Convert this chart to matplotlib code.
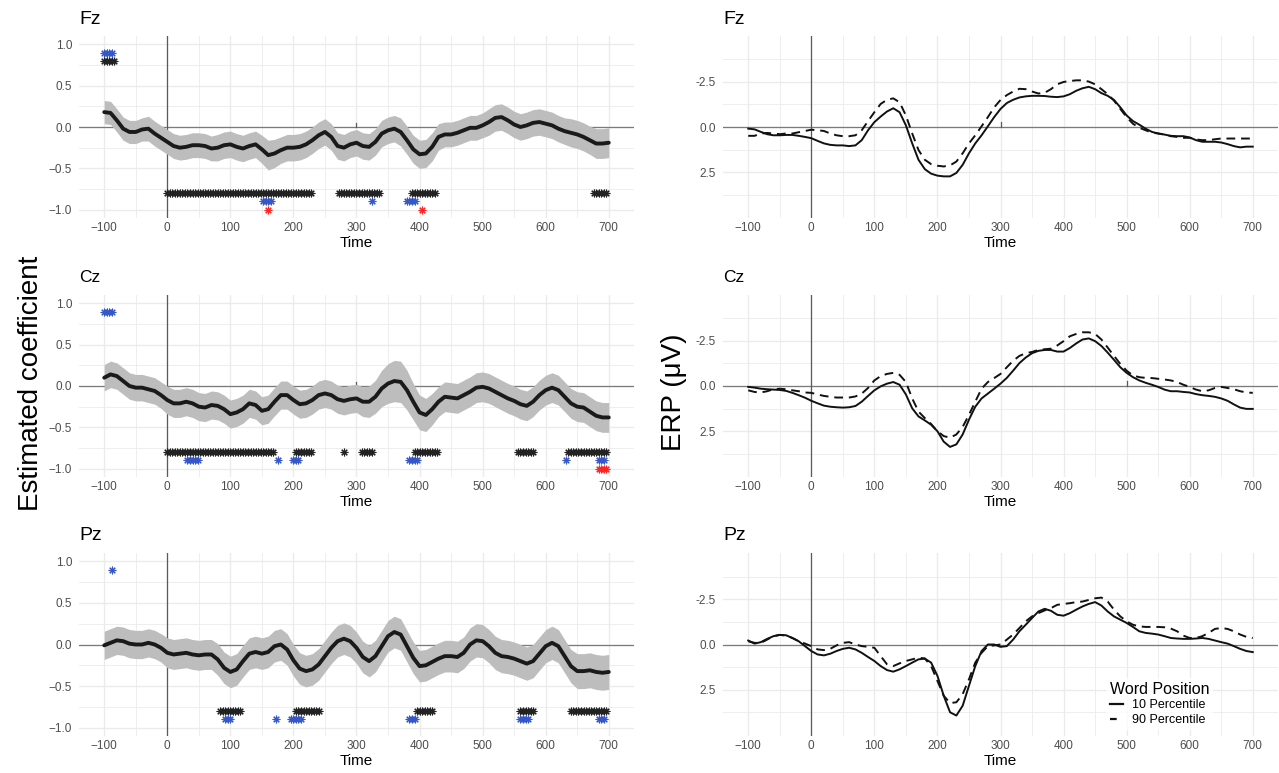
import matplotlib
matplotlib.use("Agg")
import matplotlib.pyplot as plt
import numpy as np
from matplotlib.lines import Line2D

plt.rcParams["font.family"] = ["Liberation Sans", "DejaVu Sans"]

# time axis (ms), one sample per 10 ms
TIME = np.arange(-100, 701, 10)
CHANNELS = ["Fz", "Cz", "Pz"]

# ---- left column: estimated coefficient (smooth) + CI half-width ----
coef_fz = [0.18, 0.17, 0.08, -0.02, -0.06, -0.06, -0.03, -0.02, -0.08, -0.13,
           -0.18, -0.23, -0.25, -0.24, -0.22, -0.22, -0.23, -0.26, -0.25, -0.22,
           -0.21, -0.24, -0.26, -0.23, -0.21, -0.27, -0.34, -0.32, -0.28, -0.25,
           -0.25, -0.24, -0.21, -0.16, -0.10, -0.06, -0.12, -0.23, -0.25, -0.21,
           -0.19, -0.23, -0.24, -0.18, -0.08, -0.04, -0.02, -0.06, -0.16, -0.27,
           -0.33, -0.32, -0.24, -0.12, -0.09, -0.09, -0.07, -0.04, -0.01, -0.01,
           0.02, 0.06, 0.11, 0.12, 0.08, 0.03, 0.00, 0.02, 0.05, 0.06,
           0.04, 0.02, -0.02, -0.05, -0.07, -0.09, -0.12, -0.16, -0.20, -0.20,
           -0.19]
ci_fz = [0.14, 0.14, 0.14, 0.14, 0.14, 0.14, 0.14, 0.15, 0.15, 0.15,
         0.15, 0.15, 0.15, 0.15, 0.15, 0.15, 0.15, 0.15, 0.16, 0.16,
         0.16, 0.16, 0.16, 0.16, 0.16, 0.17, 0.18, 0.17, 0.16, 0.16,
         0.16, 0.16, 0.16, 0.16, 0.16, 0.16, 0.16, 0.16, 0.16, 0.16,
         0.16, 0.16, 0.16, 0.16, 0.16, 0.16, 0.16, 0.17, 0.17, 0.17,
         0.17, 0.17, 0.17, 0.16, 0.15, 0.15, 0.15, 0.15, 0.15, 0.15,
         0.15, 0.16, 0.16, 0.16, 0.16, 0.16, 0.16, 0.16, 0.16, 0.16,
         0.16, 0.16, 0.16, 0.16, 0.17, 0.17, 0.17, 0.17, 0.18, 0.18,
         0.18]
coef_cz = [0.10, 0.14, 0.12, 0.06, 0.00, -0.02, -0.02, -0.04, -0.06, -0.11,
           -0.17, -0.21, -0.21, -0.19, -0.21, -0.25, -0.26, -0.23, -0.24, -0.28,
           -0.34, -0.32, -0.28, -0.21, -0.23, -0.30, -0.28, -0.19, -0.11, -0.11,
           -0.17, -0.22, -0.21, -0.17, -0.11, -0.09, -0.11, -0.16, -0.18, -0.16,
           -0.15, -0.19, -0.19, -0.13, -0.03, 0.03, 0.06, 0.05, -0.05, -0.19,
           -0.32, -0.35, -0.28, -0.19, -0.13, -0.14, -0.15, -0.11, -0.07, -0.02,
           -0.01, -0.03, -0.07, -0.11, -0.15, -0.18, -0.22, -0.24, -0.19, -0.11,
           -0.05, -0.02, -0.05, -0.13, -0.21, -0.25, -0.26, -0.31, -0.36, -0.38,
           -0.38]
ci_cz = [0.16, 0.16, 0.16, 0.16, 0.16, 0.16, 0.16, 0.16, 0.16, 0.16,
         0.17, 0.17, 0.17, 0.17, 0.17, 0.17, 0.17, 0.17, 0.17, 0.17,
         0.17, 0.17, 0.17, 0.17, 0.17, 0.17, 0.17, 0.17, 0.17, 0.17,
         0.17, 0.17, 0.17, 0.17, 0.17, 0.17, 0.17, 0.17, 0.17, 0.17,
         0.17, 0.18, 0.19, 0.20, 0.22, 0.24, 0.25, 0.25, 0.24, 0.22,
         0.21, 0.20, 0.19, 0.18, 0.18, 0.18, 0.18, 0.18, 0.18, 0.18,
         0.18, 0.18, 0.18, 0.18, 0.18, 0.18, 0.18, 0.18, 0.18, 0.18,
         0.18, 0.18, 0.18, 0.18, 0.18, 0.18, 0.18, 0.18, 0.18, 0.18,
         0.18]
coef_pz = [-0.01, 0.02, 0.05, 0.04, 0.01, 0.00, 0.00, 0.02, 0.00, -0.04,
           -0.10, -0.12, -0.11, -0.10, -0.12, -0.13, -0.12, -0.12, -0.18, -0.28,
           -0.33, -0.30, -0.20, -0.11, -0.09, -0.11, -0.09, -0.02, 0.00, -0.06,
           -0.19, -0.29, -0.32, -0.30, -0.24, -0.14, -0.04, 0.04, 0.07, 0.04,
           -0.04, -0.15, -0.20, -0.14, -0.02, 0.10, 0.15, 0.12, -0.02, -0.16,
           -0.26, -0.25, -0.21, -0.17, -0.14, -0.14, -0.15, -0.10, 0.00, 0.05,
           0.04, -0.02, -0.10, -0.14, -0.15, -0.17, -0.20, -0.23, -0.20, -0.11,
           -0.02, 0.02, -0.02, -0.14, -0.26, -0.32, -0.32, -0.31, -0.33, -0.34,
           -0.33]
ci_pz = [0.17, 0.17, 0.17, 0.17, 0.17, 0.17, 0.17, 0.17, 0.17, 0.17,
         0.18, 0.18, 0.18, 0.18, 0.18, 0.18, 0.18, 0.18, 0.19, 0.19,
         0.19, 0.19, 0.19, 0.19, 0.19, 0.19, 0.19, 0.19, 0.19, 0.19,
         0.19, 0.19, 0.19, 0.19, 0.19, 0.19, 0.19, 0.19, 0.19, 0.19,
         0.19, 0.19, 0.19, 0.19, 0.19, 0.19, 0.19, 0.19, 0.19, 0.19,
         0.19, 0.19, 0.19, 0.19, 0.19, 0.19, 0.19, 0.19, 0.20, 0.20,
         0.20, 0.20, 0.20, 0.20, 0.20, 0.20, 0.20, 0.20, 0.20, 0.20,
         0.20, 0.20, 0.20, 0.20, 0.20, 0.21, 0.21, 0.21, 0.21, 0.21,
         0.21]

# significance windows (ms) per row of asterisks: level -> list of (start, end)
STAR_STEP = 4
stars_fz = {
    0.9: [(-100, -88)],
    0.8: [(-100, -84)],
    -0.8: [(0, 228), (272, 336), (388, 424), (676, 696)],
    -0.9: [(152, 164), (324, 324), (380, 392)],
    -1.0: [(160, 160), (404, 404)],
}
stars_cz = {
    0.9: [(-100, -88)],
    -0.8: [(0, 170), (204, 228), (280, 280), (308, 324), (392, 428),
           (556, 580), (636, 696)],
    -0.9: [(32, 48), (176, 176), (200, 208), (384, 396), (632, 632), (684, 692)],
    -1.0: [(684, 696)],
}
stars_pz = {
    0.9: [(-88, -88)],
    -0.8: [(84, 116), (204, 240), (396, 420), (560, 580), (640, 696)],
    -0.9: [(92, 100), (172, 172), (196, 212), (384, 392), (560, 572), (684, 692)],
}
STAR_COLORS = {0.9: "#3557c8", 0.8: "#222222", -0.8: "#222222",
               -0.9: "#3557c8", -1.0: "#ff2424"}

# ---- right column: ERP (µV) for 10th / 90th word-position percentile ----
erp10_fz = [0.09, 0.13, 0.27, 0.40, 0.46, 0.46, 0.44, 0.44, 0.49, 0.55,
            0.62, 0.77, 0.91, 0.99, 1.02, 1.02, 1.06, 1.02, 0.73, 0.18,
            -0.27, -0.58, -0.86, -1.04, -0.82, -0.09, 0.91, 1.82, 2.34, 2.59,
            2.70, 2.74, 2.74, 2.55, 2.10, 1.46, 0.91, 0.46, -0.04, -0.55,
            -1.00, -1.33, -1.51, -1.64, -1.70, -1.73, -1.73, -1.72, -1.68, -1.66,
            -1.70, -1.82, -2.01, -2.15, -2.23, -2.10, -1.88, -1.73, -1.50, -1.09,
            -0.64, -0.33, -0.13, 0.09, 0.27, 0.36, 0.42, 0.49, 0.51, 0.51,
            0.58, 0.73, 0.82, 0.82, 0.82, 0.86, 0.95, 1.06, 1.13, 1.09,
            1.09]
erp90_fz = [0.49, 0.49, 0.36, 0.33, 0.36, 0.40, 0.36, 0.36, 0.29, 0.22,
            0.15, 0.18, 0.22, 0.36, 0.46, 0.51, 0.51, 0.46, 0.18, -0.33,
            -0.82, -1.28, -1.51, -1.59, -1.37, -0.64, 0.36, 1.28, 1.82, 2.06,
            2.15, 2.19, 2.13, 1.92, 1.46, 0.91, 0.46, -0.04, -0.55, -1.09,
            -1.50, -1.77, -1.97, -2.12, -2.10, -1.97, -1.86, -1.90, -2.10, -2.37,
            -2.50, -2.55, -2.59, -2.59, -2.52, -2.37, -2.10, -1.82, -1.46, -1.00,
            -0.55, -0.18, 0.04, 0.18, 0.31, 0.36, 0.42, 0.51, 0.55, 0.60,
            0.60, 0.69, 0.73, 0.73, 0.68, 0.64, 0.64, 0.64, 0.64, 0.64,
            0.64]
erp10_cz = [0.05, 0.09, 0.15, 0.18, 0.20, 0.22, 0.27, 0.38, 0.51, 0.65,
            0.82, 0.96, 1.09, 1.15, 1.18, 1.20, 1.18, 1.11, 0.87, 0.55,
            0.24, 0.02, -0.13, -0.22, -0.07, 0.47, 1.24, 1.69, 1.91, 2.15,
            2.51, 3.09, 3.38, 3.24, 2.69, 1.87, 1.15, 0.69, 0.42, 0.15,
            -0.13, -0.45, -0.85, -1.27, -1.58, -1.82, -1.95, -2.00, -2.00, -1.91,
            -1.91, -2.11, -2.36, -2.58, -2.64, -2.49, -2.22, -1.85, -1.45, -1.04,
            -0.73, -0.49, -0.31, -0.18, -0.07, 0.05, 0.20, 0.29, 0.29, 0.33,
            0.36, 0.45, 0.51, 0.55, 0.60, 0.69, 0.82, 1.02, 1.20, 1.27,
            1.27]
erp90_cz = [0.24, 0.33, 0.36, 0.29, 0.18, 0.15, 0.18, 0.24, 0.29, 0.36,
            0.38, 0.47, 0.55, 0.60, 0.64, 0.64, 0.64, 0.58, 0.42, 0.11,
            -0.31, -0.55, -0.67, -0.73, -0.62, -0.22, 0.69, 1.42, 1.78, 2.11,
            2.51, 2.78, 2.87, 2.69, 2.27, 1.60, 0.87, 0.15, -0.22, -0.44,
            -0.67, -1.04, -1.40, -1.67, -1.82, -1.89, -2.00, -2.04, -2.07, -2.25,
            -2.49, -2.76, -2.89, -2.98, -2.98, -2.89, -2.58, -2.13, -1.67, -1.22,
            -0.85, -0.58, -0.49, -0.45, -0.44, -0.40, -0.36, -0.31, -0.22, -0.07,
            0.05, 0.20, 0.29, 0.24, 0.11, 0.05, 0.11, 0.18, 0.29, 0.36,
            0.38]
erp10_pz = [-0.22, -0.05, -0.13, -0.31, -0.46, -0.53, -0.51, -0.36, -0.18, 0.09,
            0.36, 0.55, 0.60, 0.51, 0.36, 0.24, 0.18, 0.27, 0.46, 0.69,
            0.91, 1.19, 1.41, 1.50, 1.37, 1.19, 1.00, 0.82, 0.78, 1.00,
            1.73, 2.83, 3.74, 3.92, 3.38, 2.28, 1.19, 0.36, 0.00, 0.00,
            0.13, 0.09, -0.27, -0.73, -1.09, -1.46, -1.82, -1.97, -1.86, -1.64,
            -1.59, -1.73, -1.92, -2.10, -2.24, -2.34, -2.15, -1.82, -1.55, -1.37,
            -1.19, -0.97, -0.73, -0.64, -0.60, -0.55, -0.46, -0.36, -0.33, -0.31,
            -0.31, -0.33, -0.36, -0.31, -0.22, -0.13, -0.05, 0.09, 0.24, 0.36,
            0.42]
erp90_pz = [-0.18, -0.09, -0.09, -0.27, -0.46, -0.53, -0.49, -0.36, -0.18, -0.05,
            0.09, 0.27, 0.31, 0.24, 0.05, -0.09, -0.13, 0.00, 0.09, 0.13,
            0.18, 0.64, 1.09, 1.19, 1.04, 0.91, 0.82, 0.73, 0.77, 1.19,
            2.01, 2.83, 3.23, 3.19, 2.74, 1.92, 1.00, 0.46, 0.09, 0.05,
            0.00, -0.27, -0.55, -0.91, -1.28, -1.55, -1.73, -1.88, -2.01, -2.19,
            -2.24, -2.28, -2.34, -2.37, -2.46, -2.55, -2.59, -2.37, -1.92, -1.55,
            -1.28, -1.09, -1.00, -0.97, -0.97, -0.97, -0.95, -0.88, -0.73, -0.49,
            -0.36, -0.36, -0.46, -0.64, -0.86, -0.91, -0.86, -0.73, -0.55, -0.42,
            -0.36]

# small stray marks sitting on the zero line in the original (ms)
zero_marks_left = {"Fz": [300], "Cz": [300, 500], "Pz": [300]}
zero_marks_right = {"Fz": [300], "Cz": [500], "Pz": []}

COEF = {"Fz": coef_fz, "Cz": coef_cz, "Pz": coef_pz}
CI = {"Fz": ci_fz, "Cz": ci_cz, "Pz": ci_pz}
STARS = {"Fz": stars_fz, "Cz": stars_cz, "Pz": stars_pz}
ERP10 = {"Fz": erp10_fz, "Cz": erp10_cz, "Pz": erp10_pz}
ERP90 = {"Fz": erp90_fz, "Cz": erp90_cz, "Pz": erp90_pz}
TITLE_SIZE = {"Fz": 14, "Cz": 12.5, "Pz": 14}

GRID = "#ebebeb"
TICK_COLOR = "#4d4d4d"


def style_axes(ax):
    for s in ax.spines.values():
        s.set_visible(False)
    ax.set_xlim(-140, 740)
    ax.set_xticks(np.arange(-100, 701, 100))
    ax.set_xticks(np.arange(-50, 701, 100), minor=True)
    ax.tick_params(which="both", length=0, colors=TICK_COLOR, labelsize=8.5)
    ax.tick_params(axis="x", pad=3)
    ax.tick_params(axis="y", pad=5)
    ax.grid(which="major", color=GRID, lw=1.0)
    ax.grid(which="minor", color=GRID, lw=0.6)
    ax.set_axisbelow(True)
    ax.set_xlabel("Time", fontsize=11, labelpad=1)


fig = plt.figure(figsize=(12.79, 7.73), dpi=100)
W, H = 1279, 773
row_px = [(36, 218), (295, 477), (553, 736)]
col_px = [(79, 634), (723, 1278)]


def add_ax(col, row):
    x0, x1 = col_px[col]
    y0, y1 = row_px[row]
    return fig.add_axes([x0 / W, 1 - y1 / H, (x1 - x0) / W, (y1 - y0) / H])


for r, ch in enumerate(CHANNELS):
    # left: coefficient with ribbon and significance asterisks
    ax = add_ax(0, r)
    style_axes(ax)
    coef = np.array(COEF[ch])
    ci = np.array(CI[ch])
    ax.set_ylim(-1.1, 1.1)
    ax.set_yticks([-1.0, -0.5, 0.0, 0.5, 1.0])
    ax.set_yticks([-0.75, -0.25, 0.25, 0.75], minor=True)
    ax.axhline(0, color="#7a7a7a", lw=0.9, zorder=1)
    ax.axvline(0, color="#5a5a5a", lw=0.9, zorder=1)
    for xm in zero_marks_left[ch]:
        ax.plot([xm, xm], [0, 0.05], color="#5a5a5a", lw=0.9, zorder=1)
    ax.fill_between(TIME, coef - ci, coef + ci, color="#bdbdbd", lw=0, zorder=2)
    ax.plot(TIME, coef, color="#1a1a1a", lw=2.8, zorder=3,
            solid_capstyle="round")
    for level, spans in STARS[ch].items():
        xs = np.concatenate([np.arange(a, b + 1, STAR_STEP) for a, b in spans])
        ax.plot(xs, np.full(len(xs), level), ls="none", marker=(8, 2, 0),
                ms=5.5, mew=0.8, color=STAR_COLORS[level], zorder=4)
    ax.set_title(ch, loc="left", fontsize=TITLE_SIZE[ch], pad=9)

    # right: ERP curves, negative up
    ax = add_ax(1, r)
    style_axes(ax)
    ax.set_ylim(5.05, -5.05)
    ax.set_yticks([-2.5, 0.0, 2.5])
    ax.set_yticklabels(["-2.5", "0.0", "2.5"])
    ax.set_yticks([-3.75, -1.25, 1.25, 3.75], minor=True)
    ax.axhline(0, color="#7a7a7a", lw=0.9, zorder=1)
    ax.axvline(0, color="#5a5a5a", lw=0.9, zorder=1)
    for xm in zero_marks_right[ch]:
        ax.plot([xm, xm], [0, -0.25], color="#5a5a5a", lw=0.9, zorder=1)
    ax.plot(TIME, ERP10[ch], color="#111111", lw=1.4, zorder=3,
            label="10 Percentile")
    ax.plot(TIME, ERP90[ch], color="#111111", lw=1.4, ls=(0, (4.5, 3)),
            zorder=3, label="90 Percentile")
    ax.set_title(ch, loc="left", fontsize=TITLE_SIZE[ch], pad=9)
    if ch == "Pz":
        handles = [Line2D([], [], color="#111111", lw=1.6),
                   Line2D([], [], color="#111111", lw=1.6, ls=(0, (3, 3)))]
        leg = ax.legend(handles, ["10 Percentile", "90 Percentile"],
                        title="Word Position", loc="upper left",
                        bbox_to_anchor=(1100 / W, 1 - 672 / H),
                        bbox_transform=fig.transFigure, fontsize=9,
                        title_fontsize=11.5, handlelength=1.0,
                        handletextpad=0.8, labelspacing=0.2,
                        frameon=True, fancybox=False, borderpad=0.3)
        leg.get_frame().set_facecolor("white")
        leg.get_frame().set_edgecolor("none")
        leg._legend_box.align = "left"

fig.text(0.024, 1 - 383 / H, "Estimated coefficient", rotation=90,
         ha="center", va="center", fontsize=20)
fig.text(674 / W, 1 - 392 / H, "ERP (\u03bcV)", rotation=90,
         ha="center", va="center", fontsize=20)

fig.savefig("out.png", dpi=100)
